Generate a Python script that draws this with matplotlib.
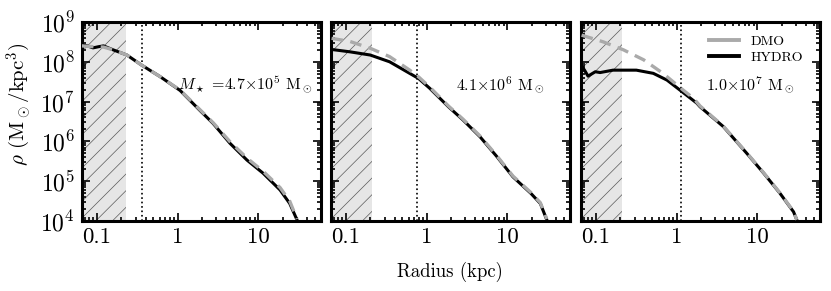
import numpy as np
import matplotlib
matplotlib.use("Agg")
import matplotlib.pyplot as plt
from matplotlib.lines import Line2D
from matplotlib.ticker import LogLocator, NullFormatter

plt.rcParams["font.family"] = "serif"
plt.rcParams["font.serif"] = ["cmr10"]
plt.rcParams["mathtext.fontset"] = "cm"
plt.rcParams["axes.unicode_minus"] = False
plt.rcParams["axes.formatter.use_mathtext"] = True
plt.rcParams["hatch.linewidth"] = 0.5

# log10 radius (kpc) and log10 density (Msun/kpc^3)
r1_hydro = [-1.19, -1.12, -1.05, -0.98, -0.92, -0.80, -0.63, -0.45, -0.22, 0.03, 0.28, 0.44, 0.65, 0.86, 1.06, 1.27, 1.39, 1.48]
rho1_hydro = [8.42, 8.40, 8.35, 8.38, 8.40, 8.30, 8.17, 7.92, 7.63, 7.28, 6.77, 6.45, 5.95, 5.53, 5.20, 4.78, 4.44, 4.03]
r1_dmo = [-1.19, -1.05, -0.92, -0.80, -0.63, -0.45, -0.22, 0.03, 0.28, 0.44, 0.65, 0.86, 1.06, 1.27, 1.39, 1.48]
rho1_dmo = [8.40, 8.38, 8.37, 8.30, 8.17, 7.92, 7.63, 7.29, 6.79, 6.47, 5.99, 5.58, 5.25, 4.84, 4.50, 4.05]

r2_hydro = [-1.18, -0.95, -0.70, -0.46, -0.10, 0.04, 0.27, 0.45, 0.66, 0.87, 1.07, 1.29, 1.41, 1.49]
rho2_hydro = [8.31, 8.25, 8.17, 8.00, 7.58, 7.33, 6.87, 6.54, 6.12, 5.62, 5.11, 4.70, 4.44, 4.03]
r2_dmo = [-1.18, -0.95, -0.70, -0.46, -0.21, -0.10, 0.04, 0.27, 0.45, 0.66, 0.87, 1.07, 1.29, 1.41, 1.49]
rho2_dmo = [8.59, 8.51, 8.34, 8.13, 7.79, 7.62, 7.36, 6.89, 6.56, 6.14, 5.64, 5.13, 4.72, 4.46, 4.05]

r3_hydro = [-1.18, -1.14, -1.10, -1.01, -0.95, -0.79, -0.50, -0.29, -0.12, 0.04, 0.25, 0.29, 0.58, 0.87, 1.08, 1.28, 1.45, 1.49]
rho3_hydro = [7.90, 7.78, 7.64, 7.75, 7.73, 7.79, 7.79, 7.71, 7.54, 7.29, 6.96, 6.87, 6.37, 5.70, 5.20, 4.70, 4.23, 4.03]
r3_dmo = [-1.18, -0.91, -0.66, -0.41, -0.17, 0.08, 0.21, 0.29, 0.58, 0.87, 1.08, 1.28, 1.45, 1.49]
rho3_dmo = [8.67, 8.50, 8.30, 8.05, 7.71, 7.29, 7.08, 6.89, 6.38, 5.71, 5.21, 4.71, 4.24, 4.03]

shade_edge = [0.23, 0.21, 0.21]
r_converge = [0.36, 0.75, 1.14]
labels = [r"$M_\star$ =4.7$\times$10$^5$ M$_\odot$",
          r"4.1$\times$10$^6$ M$_\odot$",
          r"1.0$\times$10$^7$ M$_\odot$"]
label_x = [0.967, 0.895, 0.895]

panels = [(r1_hydro, rho1_hydro, r1_dmo, rho1_dmo),
          (r2_hydro, rho2_hydro, r2_dmo, rho2_dmo),
          (r3_hydro, rho3_hydro, r3_dmo, rho3_dmo)]

fig = plt.figure(figsize=(8.31, 2.91), dpi=100)
lefts = [82, 331, 581]
axes = [fig.add_axes([l / 831, 1 - 221 / 291, 239 / 831, 199 / 291]) for l in lefts]

for i, ax in enumerate(axes):
    rh, ph, rd, pd = panels[i]
    ax.axvspan(0.01, shade_edge[i], facecolor="0.9", edgecolor="0.35",
               hatch="//", linewidth=0, zorder=0)
    ax.axvline(r_converge[i], color="k", ls=":", lw=1.2, zorder=1)
    ax.plot(10 ** np.array(rh), 10 ** np.array(ph), color="k", lw=2.2, zorder=2)
    ax.plot(10 ** np.array(rd), 10 ** np.array(pd), color="#aaaaaa", lw=2.4,
            ls=(0, (3.5, 2.2)), zorder=3)
    ax.set_xscale("log")
    ax.set_yscale("log")
    ax.set_xlim(0.065, 60)
    ax.set_ylim(1e4, 1e9)
    ax.set_xticks([0.1, 1, 10])
    ax.set_xticklabels(["0.1", "1", "10"])
    ax.set_yticks([1e4, 1e5, 1e6, 1e7, 1e8, 1e9])
    ax.yaxis.set_minor_locator(LogLocator(base=10, subs=np.arange(2, 10), numticks=20))
    ax.yaxis.set_minor_formatter(NullFormatter())
    ax.tick_params(which="both", direction="in", top=True, right=True, width=1.2)
    ax.tick_params(axis="x", labelsize=16.5)
    ax.tick_params(axis="y", labelsize=17)
    ax.tick_params(which="major", length=6, pad=5)
    ax.tick_params(which="minor", length=3)
    for s in ax.spines.values():
        s.set_linewidth(2.2)
    if i > 0:
        ax.set_yticklabels([])
    ax.text(label_x[i], 0.683, labels[i], transform=ax.transAxes,
            ha="right", va="center", fontsize=11.5)

axes[0].set_ylabel(r"$\rho$ (M$_\odot$/kpc$^3$)", fontsize=15)
axes[0].yaxis.set_label_coords(-0.205, 0.588)
axes[1].set_xlabel("Radius (kpc)", fontsize=13.5)
axes[1].xaxis.set_label_coords(0.498, -0.205)

handles = [Line2D([], [], color="#aaaaaa", lw=2.8),
           Line2D([], [], color="k", lw=2.8)]
axes[2].legend(handles, ["DMO", "HYDRO"], loc="upper right", frameon=False,
               fontsize=10, handlelength=2.16, handletextpad=0.86,
               bbox_to_anchor=(0.954, 0.96), labelspacing=0.22,
               borderaxespad=0)

fig.savefig("out.png", dpi=100)
